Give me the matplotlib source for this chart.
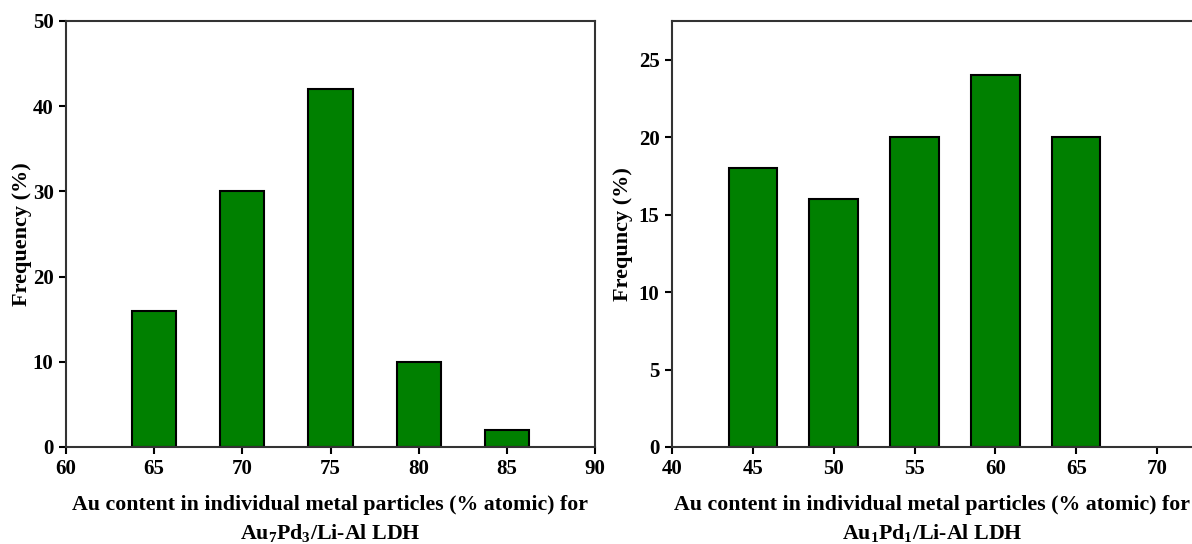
import matplotlib
matplotlib.use('Agg')
import matplotlib.pyplot as plt

# Au7Pd3 sample
left_bins = [65, 70, 75, 80, 85]
left_freq = [16, 30, 42, 10, 2]
# Au1Pd1 sample
right_bins = [45, 50, 55, 60, 65]
right_freq = [18, 16, 20, 24, 20]

left_xlabel = "Au content in individual metal particles (% atomic) for\nAu$_{7}$Pd$_{3}$/Li-Al LDH"
right_xlabel = "Au content in individual metal particles (% atomic) for\nAu$_{1}$Pd$_{1}$/Li-Al LDH"
left_ylabel = "Frequency (%)"
right_ylabel = "Frequncy (%)"  # spelled this way in the original figure

plt.rcParams['font.family'] = ['Liberation Serif', 'DejaVu Serif']
plt.rcParams['font.weight'] = 'bold'
plt.rcParams['axes.labelweight'] = 'bold'
plt.rcParams['mathtext.fontset'] = 'custom'
plt.rcParams['mathtext.rm'] = 'Liberation Serif:bold'
plt.rcParams['mathtext.it'] = 'Liberation Serif:bold'
plt.rcParams['mathtext.bf'] = 'Liberation Serif:bold'

W, H = 1192, 544
fig = plt.figure(figsize=(W / 100, H / 100), dpi=100)

bar_kw = dict(color='#008000', edgecolor='black', linewidth=1.5)


def style(ax, ylabel, pad):
    for s in ax.spines.values():
        s.set_linewidth(1.5)
        s.set_color('#333333')
    ax.tick_params(direction='out', length=5, width=1.5, labelsize=15,
                   colors='black', pad=4)
    for lab in ax.get_xticklabels() + ax.get_yticklabels():
        lab.set_fontweight('bold')
    ax.set_ylabel(ylabel, fontsize=16, labelpad=pad)


ax1 = fig.add_axes([66 / W, 1 - 447 / H, (595 - 66) / W, (447 - 21) / H])
ax1.bar(left_bins, left_freq, width=2.5, **bar_kw)
ax1.set_xlim(60, 90)
ax1.set_ylim(0, 50)
ax1.set_xticks(range(60, 91, 5))
ax1.set_yticks(range(0, 51, 10))
style(ax1, left_ylabel, 0.5)
ax1.set_xlabel(left_xlabel, fontsize=15.75, labelpad=11, linespacing=1.4)

ax2 = fig.add_axes([672 / W, 1 - 447 / H, (W - 672) / W, (447 - 21) / H])
ax2.bar(right_bins, right_freq, width=3, **bar_kw)
ax2.set_xlim(40, 70 + (W - 1157) / 16.2)
ax2.set_ylim(0, 27.5)
ax2.set_xticks(range(40, 71, 5))
ax2.set_yticks(range(0, 26, 5))
style(ax2, right_ylabel, 4)
ax2.spines['right'].set_visible(False)
ax2.set_xlabel(right_xlabel, fontsize=15.75, labelpad=11, linespacing=1.4)

fig.savefig('out.png', dpi=100)
